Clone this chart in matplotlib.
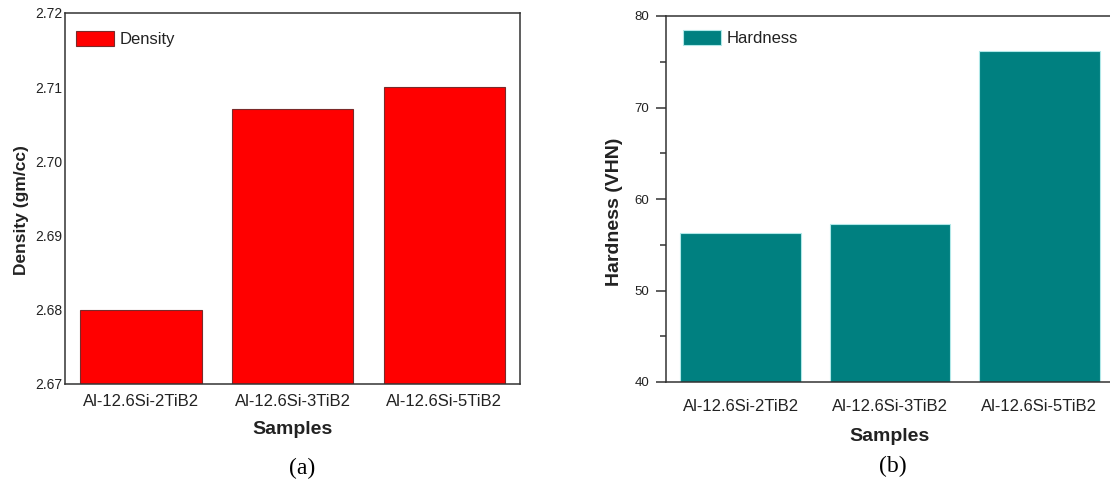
import matplotlib
matplotlib.use("Agg")
import matplotlib.pyplot as plt
from matplotlib.ticker import MultipleLocator, FormatStrFormatter

samples = ["Al-12.6Si-2TiB2", "Al-12.6Si-3TiB2", "Al-12.6Si-5TiB2"]
density = [2.680, 2.707, 2.710]
hardness = [56.3, 57.3, 76.2]
density_ticks = [2.67, 2.68, 2.69, 2.70, 2.71, 2.72]
hardness_ticks = [40, 50, 60, 70, 80]

plt.rcParams['font.family'] = ['Liberation Sans', 'DejaVu Sans']
txt = '#222222'
spine_c = '#333333'

fig = plt.figure(figsize=(11.1, 4.88), dpi=100)

# ---- (a) Density ----
ax1 = fig.add_axes([65/1110, 1-384/488, (520-65)/1110, (384-13)/488])
x = range(len(samples))
ax1.bar(x, density, width=0.8, color='#ff0000', edgecolor='#7a2a2a', linewidth=0.8,
        label='Density', zorder=2)
ax1.set_xlim(-0.5, 2.5)
ax1.set_ylim(2.67, 2.72)
ax1.set_yticks(density_ticks)
ax1.yaxis.set_major_formatter(FormatStrFormatter('%.2f'))
ax1.set_xticks(list(x))
ax1.set_xticklabels(samples, fontsize=12, color=txt)
ax1.tick_params(axis='y', length=0, pad=2, labelsize=10, labelcolor=txt)
ax1.tick_params(axis='x', length=0, pad=7)
for s in ax1.spines.values():
    s.set_color(spine_c)
    s.set_linewidth(1.1)
ax1.set_xlabel('Samples', fontsize=14, fontweight='bold', color=txt, labelpad=9)
ax1.set_ylabel('Density (gm/cc)', fontsize=12.5, fontweight='bold', color=txt)
ax1.yaxis.set_label_coords((29-65)/455, 1-(210-13)/371)
ax1.legend(loc='upper left', bbox_to_anchor=(0.024, 0.952), frameon=False,
           borderpad=0, borderaxespad=0, handlelength=2.3, handleheight=1.05,
           handletextpad=0.3, fontsize=12, labelcolor=txt)

# ---- (b) Hardness ----
ax2 = fig.add_axes([666/1110, 1-382/488, (1114-666)/1110, (382-16)/488])
ax2.bar(x, hardness, width=0.81, color='#008080', edgecolor='#b0e8e8', linewidth=0.8,
        label='Hardness', zorder=2)
ax2.set_xlim(-0.5, 2.5)
ax2.set_ylim(40, 80)
ax2.set_yticks(hardness_ticks)
ax2.yaxis.set_minor_locator(MultipleLocator(5))
ax2.set_xticks(list(x))
ax2.set_xticklabels(samples, fontsize=12, color=txt)
ax2.tick_params(axis='y', which='major', length=7, width=1.1, color=spine_c, pad=5,
                labelsize=9.5, labelcolor=txt, direction='out')
ax2.tick_params(axis='y', which='minor', length=4, width=1.1, color=spine_c, direction='out')
ax2.tick_params(axis='x', length=0, pad=12)
for s in ax2.spines.values():
    s.set_color(spine_c)
    s.set_linewidth(1.1)
ax2.set_xlabel('Samples', fontsize=14, fontweight='bold', color=txt, labelpad=10)
ax2.set_ylabel('Hardness (VHN)', fontsize=14, fontweight='bold', color=txt)
ax2.yaxis.set_label_coords((623-666)/448, 1-(212-16)/366)
ax2.legend(loc='upper left', bbox_to_anchor=(0.038, 0.963), frameon=False,
           borderpad=0, borderaxespad=0, handlelength=2.3, handleheight=1.05,
           handletextpad=0.3, fontsize=12, labelcolor=txt)

# panel captions
fig.text(302/1110, 1-468/488, '(a)', ha='center', va='center', fontsize=17,
         family=['Liberation Serif', 'DejaVu Serif'], color='black')
fig.text(893/1110, 1-466/488, '(b)', ha='center', va='center', fontsize=17,
         family=['Liberation Serif', 'DejaVu Serif'], color='black')

fig.savefig('out.png', dpi=100, facecolor='white')
